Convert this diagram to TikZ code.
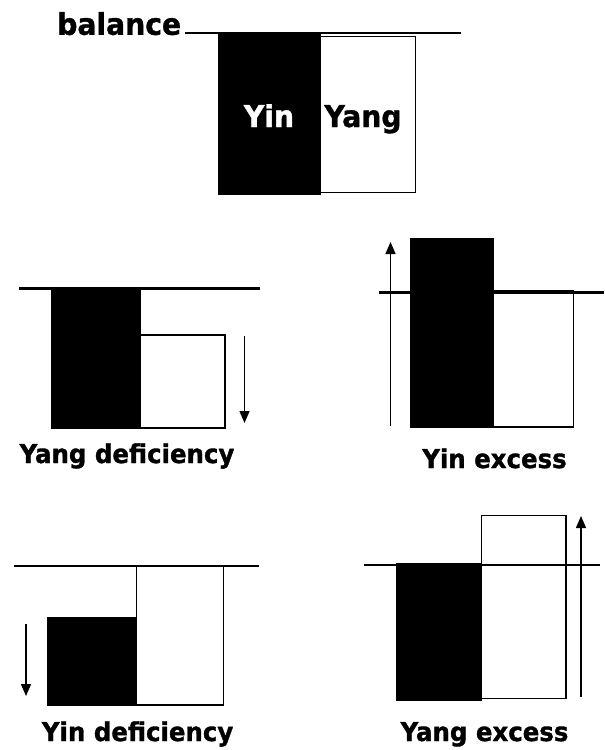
\documentclass[tikz,border=0pt]{standalone}
\usepackage{fontspec}
\setmainfont{DejaVu Sans}[FakeStretch=0.94,BoldFeatures={FakeBold=1.2}]
\usetikzlibrary{arrows.meta}
\begin{document}
\begin{tikzpicture}[x=0.75pt,y=-0.75pt,
  level/.style={line width=1.6pt},
  yinbar/.style={fill=black,draw=black,line width=0.9pt},
  yangbar/.style={fill=white,draw=black,line width=1pt},
  arr/.style={line width=1pt,-{Triangle[length=9pt,width=7.5pt]}},
  lab/.style={inner sep=0pt,anchor=base,font=\fontsize{19.5}{23}\selectfont\bfseries},
  big/.style={inner sep=0pt,font=\fontsize{22.5}{26}\selectfont\bfseries}]
\useasboundingbox (0,0) rectangle (604,750);

% ---------- balance ----------
\draw[yangbar] (320,36.7) rectangle (415.5,192.7);
\draw[yinbar] (219,33) rectangle (320,194);
\draw[level] (185,33) -- (461,33);
\node[big,anchor=base west] (tbal) at (57,34.8) {balance};
\node[big,anchor=base,text=white] (tyin) at (269,127) {Yin};
\node[big,anchor=base] (tyang) at (363,127) {Yang};

% ---------- Yang deficiency ----------
\draw[yangbar] (140,335) rectangle (225,428);
\draw[yinbar] (51.5,288.5) rectangle (140,428);
\draw[level] (18.5,288.5) -- (260,288.5);
\coordinate (a1s) at (244.5,336);
\coordinate (a1e) at (244.5,423);
\draw[arr] (a1s) -- (a1e);
\node[lab] (lyd) at (127,463) {Yang deficiency};

% ---------- Yin excess ----------
\draw[yangbar] (493.6,290.5) rectangle (573.6,427);
\draw[yinbar] (410.5,239) rectangle (493.6,427);
\draw[level] (378.7,292.5) -- (604,292.5);
\coordinate (a2s) at (390.5,426);
\coordinate (a2e) at (390.5,242);
\draw[arr] (a2s) -- (a2e);
\node[lab] (lye) at (494.5,468) {Yin excess};

% ---------- Yin deficiency ----------
\draw[yangbar] (136.4,566) rectangle (223.6,705);
\draw[yinbar] (47.7,617.3) rectangle (136.4,705);
\draw[level] (13.6,566) -- (258.5,566);
\coordinate (a3s) at (26,624);
\coordinate (a3e) at (26,696);
\draw[arr] (a3s) -- (a3e);
\node[lab] (lnd) at (137.6,741) {Yin deficiency};

% ---------- Yang excess ----------
\draw[yangbar] (481.8,515.7) rectangle (566,698.3);
\draw[yinbar] (396.5,563.3) rectangle (481.8,700);
\draw[level] (364,565.3) -- (600,565.3);
\coordinate (a4s) at (581,697);
\coordinate (a4e) at (581,516);
\draw[arr] (a4s) -- (a4e);
\node[lab] (lae) at (484.5,741) {Yang excess};
\end{tikzpicture}
\end{document}
